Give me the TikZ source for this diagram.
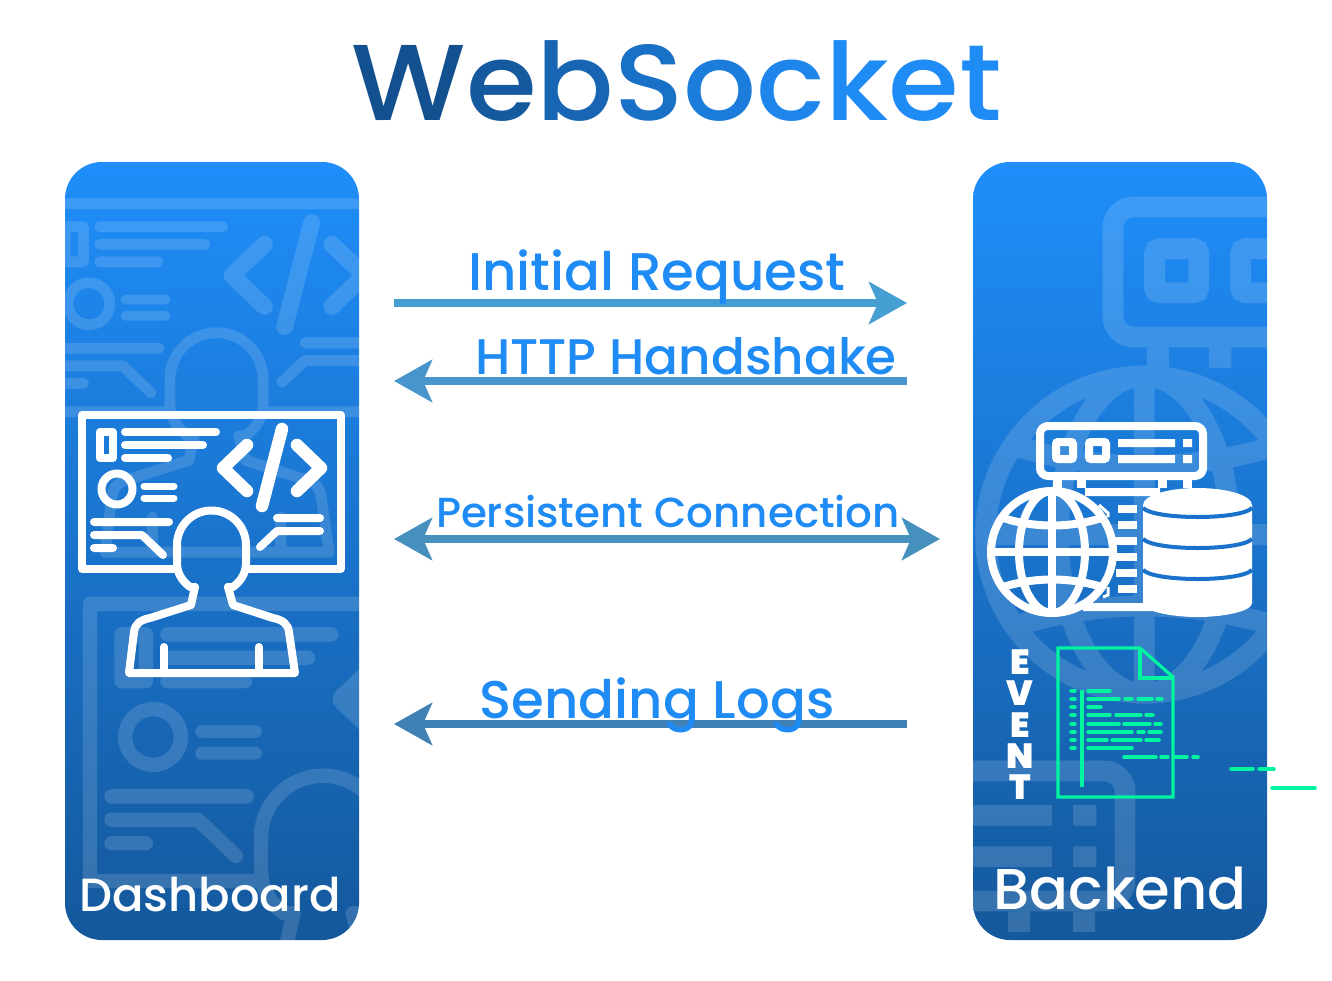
\documentclass[tikz,border=0pt]{standalone}
\usepackage{fontspec}
\setmainfont{Poppins}
\newfontfamily\labelfont{Poppins Medium}
\newfontfamily\eventfont{Poppins Black}
\usetikzlibrary{arrows.meta, positioning}
\definecolor{paneltop}{HTML}{1F8EFA}
\definecolor{panelbot}{HTML}{14589C}
\definecolor{labelblue}{HTML}{1F8BF5}
\definecolor{flowa}{HTML}{469FD3}
\definecolor{flowb}{HTML}{4795CC}
\definecolor{flowc}{HTML}{4690BE}
\definecolor{flowd}{HTML}{3F80B5}
\definecolor{codegreen}{HTML}{00F5A0}
\definecolor{titledk}{HTML}{13508F}
\definecolor{dbgap}{HTML}{1A72CA}
\tikzset{
  panel/.style={rounded corners=37pt, top color=paneltop, bottom color=panelbot,
                minimum width=294pt, minimum height=778pt, inner sep=0pt},
  panellabel/.style={text=white, anchor=base, inner sep=0pt, font=\labelfont\fontsize{46.5}{46.5}\selectfont},
  flowlabel/.style={text=labelblue, anchor=base, inner sep=0pt, font=\labelfont\fontsize{53}{53}\selectfont},
  fl/.style={-{Stealth[length=38pt, width=42pt, inset=9pt]}, line width=8pt},
  flboth/.style={{Stealth[length=38pt, width=42pt, inset=9pt]}-{Stealth[length=38pt, width=42pt, inset=9pt]}, line width=8pt},
  ic/.style={draw=white, line cap=round, line join=round},
  code/.style={draw=codegreen, line width=3.5pt, line cap=round},
  eventletter/.style={text=white, inner sep=0pt, text height=24pt, text depth=0pt, font=\eventfont\fontsize{35}{35}\selectfont},
  faint/.style={opacity=.14, transparency group},
}
% developer at a monitor, #1 only scales the stroke widths
\newcommand{\devicon}[1]{%
  \pgfmathsetmacro{\ks}{#1}
  \draw[ic, line width=\ks*8pt] (176,569) -- (82,569) -- (82,415) -- (340.5,415) -- (340.5,569) -- (247,569);
  \draw[ic, line width=\ks*8pt] (99.5,432) rectangle (113,458);
  \draw[ic, line width=\ks*8pt] (125,432) -- (216,432) (125,445) -- (203,445) (125,458) -- (168,458);
  \draw[ic, line width=\ks*8pt] (117,489) circle (15.5);
  \draw[ic, line width=\ks*7pt] (144,486) -- (174,486) (144,498) -- (174,498);
  \draw[ic, line width=\ks*8pt] (94,522) -- (169,522) (94,535) -- (142,535) -- (163,555) (94,548) -- (113,548);
  \draw[ic, line width=\ks*12.5pt] (247,445) -- (223,468) -- (247,491);
  \draw[ic, line width=\ks*12.5pt] (297,445) -- (321,468) -- (297,491);
  \draw[ic, line width=\ks*12.5pt] (282,429) -- (262,506);
  \draw[ic, line width=\ks*8pt] (277,518) -- (320,518) (320,531) -- (277,531) -- (260,547);
  \draw[ic, line width=\ks*8pt] (195,587) -- (190,587) .. controls (182,581) and (177,573) .. (177,563)
    -- (177,545) arc[start angle=180, end angle=360, radius=34.5] -- (246,563)
    .. controls (246,573) and (241,581) .. (233,587) -- (228,587);
  \draw[ic, line width=\ks*8pt] (195,587) -- (191,605) -- (150,618) .. controls (140,620) and (135,624) .. (134,632)
    -- (129,673) -- (295,673) -- (289,632) .. controls (288,624) and (283,620) .. (273,618) -- (233,605) -- (228,587);
  \draw[ic, line width=\ks*8pt] (164,647) -- (164,673) (259,647) -- (259,673);
}
% server rack on two pairs of legs
\newcommand{\servericon}[1]{%
  \pgfmathsetmacro{\ks}{#1}
  \draw[draw=white, line width=\ks*8pt, rounded corners=\ks*8pt] (1040,426) rectangle (1203,476);
  \foreach \sx in {1056,1089}
    \draw[draw=white, line width=\ks*8pt, rounded corners=\ks*2pt] (\sx,442) rectangle ++(17,17);
  \fill[white] (1118,439) rectangle (1175,447) (1118,455) rectangle (1175,463)
    (1183,439) rectangle (1192,447) (1183,455) rectangle (1192,463);
  \foreach \sx in {1053,1077,1158,1183}
    \fill[white] (\sx,480) rectangle ++(8.5,8);
}
\newcommand{\globeicon}[1]{%
  \pgfmathsetmacro{\ks}{#1}
  \draw[draw=white, line width=\ks*8pt] (1052,552) circle (61);
  \draw[draw=white, line width=\ks*8pt] (1052,552) ellipse [x radius=33, y radius=61];
  \draw[draw=white, line width=\ks*8pt] (1052,491) -- (1052,613) (991,552) -- (1113,552);
  \draw[draw=white, line width=\ks*8pt] (1003,518) .. controls (1035,528) and (1069,528) .. (1102,518);
  \draw[draw=white, line width=\ks*8pt] (1003,587) .. controls (1035,577) and (1069,577) .. (1102,587);
}
\begin{document}
\begin{tikzpicture}[x=1pt, y=-1pt]
  \useasboundingbox (0,0) rectangle (1332,980);

  \node[text=labelblue, anchor=base, inner sep=0pt, font=\labelfont\fontsize{108}{108}\selectfont, xscale=1.06] (title) at (677,120)
    {{\color{titledk}W}{\color{labelblue!15!titledk}e}{\color{labelblue!35!titledk}b}{\color{labelblue!55!titledk}S}{\color{labelblue!75!titledk}o}{\color{labelblue!90!titledk}c}{\color{labelblue}ket}};

  % panels with their faint background copies
  \node[panel] (dash) at (212,551) {};
  \node[panel] (back) at (1120,551) {};
  \begin{scope}
    \clip[rounded corners=37pt] (65,162) rectangle (359,940);
    \begin{scope}[faint, shift={(313,220)}, scale=1.35, shift={(-283,-427)}]
      \devicon{1.35}
    \end{scope}
    \begin{scope}[faint, shift={(153,737)}, scale=1.8, shift={(-117,-489)}]
      \devicon{1.8}
    \end{scope}
  \end{scope}
  \begin{scope}
    \clip[rounded corners=37pt] (973,162) rectangle (1267,940);
    \begin{scope}[faint, shift={(1113,207)}, scale=2.6, shift={(-1040,-426)}]
      \servericon{2.6}
      \globeicon{2.6}
    \end{scope}
    \begin{scope}[faint, shift={(1125,771)}, scale=2.6, shift={(-1203,-426)}]
      \servericon{2.6}
    \end{scope}
  \end{scope}

  \devicon{1}
  \servericon{1}
  \globeicon{1}

  % sheet behind the globe
  \fill[white] (1085,488) rectangle (1160,496) (1083,603) rectangle (1160,611);
  \foreach \sy/\sa in {505/1118, 521/1118, 537/1113, 553/1113, 569/1116, 585/1118}
    \fill[white] (\sa,\sy) rectangle (1137,\sy+8);
  \draw[draw=white, line width=3pt] (1099,505) -- (1108,513) -- (1108,517) (1108,587) -- (1108,595) -- (1103,597);

  % database
  \fill[white] (1143,505) arc[start angle=180, end angle=360, x radius=54.5, y radius=17]
    -- (1252,603) .. controls (1252,611) and (1225,617) .. (1197.5,617) .. controls (1170,617) and (1143,611) .. (1143,603) -- cycle;
  \foreach \sy in {508,539,570}
    \draw[draw=dbgap, line width=4pt] (1143,\sy) .. controls (1155,\sy+12) and (1240,\sy+12) .. (1252,\sy);

  % event file
  \draw[draw=codegreen, line width=3.2pt] (1058,648) -- (1140,648) -- (1173,677) -- (1173,797) -- (1058,797) -- cycle;
  \draw[draw=codegreen, line width=3.2pt] (1140,648) -- (1140,678) -- (1173,678);
  \draw[draw=codegreen, line width=3.2pt] (1082,690) -- (1082,787);
  \foreach \sy in {691,699,707,715,724,732,740,748}
    \draw[code] (1071,\sy) -- (1075,\sy);
  \foreach \sa/\sb/\sy in {1088/1110/691, 1088/1119/699, 1125/1132/699, 1138/1152/699, 1157/1162/699,
      1088/1101/707, 1088/1110/715, 1116/1141/715, 1146/1153/715, 1088/1119/724, 1124/1150/724, 1155/1161/724,
      1088/1132/732, 1138/1144/732, 1149/1161/732, 1088/1107/740, 1112/1141/740, 1146/1159/740, 1088/1132/748,
      1124/1156/757, 1161/1168/757, 1174/1187/757, 1193/1198/757, 1231/1253/769, 1259/1274/769, 1272/1315/788}
    \draw[code] (\sa,\sy) -- (\sb,\sy);

  \node[eventletter] (ev1) at (1020,662) {E};
  \node[eventletter] (ev2) at (1020,693) {V};
  \node[eventletter] (ev3) at (1020,725) {E};
  \node[eventletter] (ev4) at (1020,756) {N};
  \node[eventletter] (ev5) at (1020,787) {T};

  \node[panellabel] (dashlabel) at (210,911) {Dashboard};
  \node[panellabel, font=\labelfont\fontsize{57.5}{57.5}\selectfont] (backlabel) at (1120,909) {Backend};

  % flows between the panels
  \coordinate (reqa) at (394,303);  \coordinate (reqb) at (907,303);
  \coordinate (hska) at (394,381);  \coordinate (hskb) at (907,381);
  \coordinate (pera) at (394,539);  \coordinate (perb) at (940,539);
  \coordinate (loga) at (394,724);  \coordinate (logb) at (907,724);
  \draw[fl, draw=flowa, color=flowa] (reqa) -- (reqb);
  \draw[fl, draw=flowb, color=flowb] (hskb) -- (hska);
  \draw[flboth, draw=flowc, color=flowc] (pera) -- (perb);
  \draw[fl, draw=flowd, color=flowd] (logb) -- (loga);

  \node[flowlabel] (reqlabel) at (657,290) {Initial Request};
  \node[flowlabel, font=\labelfont\fontsize{50}{50}\selectfont] (hsklabel) at (686,374) {HTTP Handshake};
  \node[flowlabel, font=\labelfont\fontsize{42}{42}\selectfont] (perlabel) at (668,527) {Persistent Connection};
  \node[flowlabel] (loglabel) at (657,718) {Sending Logs};
\end{tikzpicture}
\end{document}
